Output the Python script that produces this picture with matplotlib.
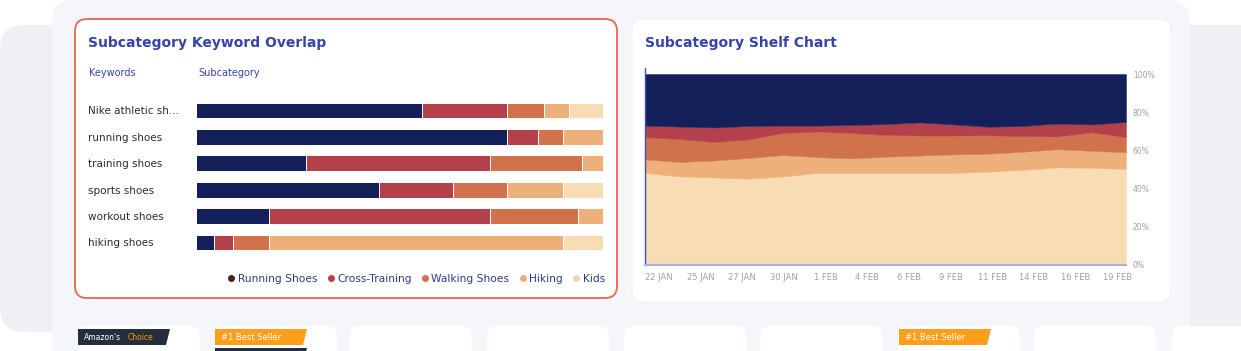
import numpy as np
import matplotlib.pyplot as plt
from matplotlib.patches import FancyBboxPatch, Polygon
from matplotlib.lines import Line2D
from matplotlib.transforms import IdentityTransform

W, H = 1241, 351

# keyword overlap (share of each keyword per subcategory, %)
keywords = ["Nike athletic sh...", "running shoes", "training shoes",
            "sports shoes", "workout shoes", "hiking shoes"]
subcats = ["Running Shoes", "Cross-Training", "Walking Shoes", "Hiking", "Kids"]
running_kw = [55.5, 76.5, 27.0, 45.0, 18.0, 4.3]
cross_kw = [21.0, 7.4, 45.1, 18.0, 54.2, 4.7]
walking_kw = [9.0, 6.3, 22.6, 13.3, 21.6, 8.9]
hiking_kw = [6.2, 9.8, 5.3, 13.9, 6.2, 72.3]
kids_kw = [8.3, 0.0, 0.0, 9.8, 0.0, 9.8]

# shelf share over time (%)
dates = ["22 JAN", "25 JAN", "27 JAN", "30 JAN", "1 FEB", "4 FEB",
         "6 FEB", "9 FEB", "11 FEB", "14 FEB", "16 FEB", "19 FEB"]
kids_sh = [48.2, 46.4, 45.8, 45.2, 46.3, 48.2, 48.2, 48.2, 48.2, 48.2, 48.9, 49.8, 51.1, 50.9, 50.3]
hiking_sh = [7.1, 7.5, 8.9, 10.8, 11.3, 8.3, 7.6, 8.5, 9.1, 9.7, 9.4, 9.5, 9.5, 8.9, 8.7]
walking_sh = [11.6, 12.1, 9.7, 9.7, 11.5, 13.4, 13.3, 11.4, 10.5, 9.9, 9.6, 8.2, 6.7, 9.7, 7.9]
cross_sh = [6.0, 6.5, 7.6, 7.1, 3.9, 3.1, 4.2, 5.7, 6.9, 5.8, 4.5, 5.3, 6.8, 4.1, 8.0]
running_sh = [27.1, 27.5, 28.0, 27.2, 27.0, 27.0, 26.7, 26.2, 25.3, 26.4, 27.6, 27.2, 25.9, 26.4, 25.1]

colors = ["#14205A", "#B3404A", "#D0734D", "#EDB07A", "#F8DCB3"]
dot_colors = ["#4A2118", "#B8404A", "#D0724C", "#EDB07A", "#EED2BE"]
blue = "#3444AA"

plt.rcParams['font.family'] = ['DejaVu Sans']


def box(x0, y0, x1, y1):
    return [x0 / W, 1 - y1 / H, (x1 - x0) / W, (y1 - y0) / H]


def rbox(fig, x0, y0, x1, y1, r, fc, ec="none", lw=0, z=-1):
    p = FancyBboxPatch((x0, H - y1), x1 - x0, y1 - y0,
                       boxstyle="round,pad=0,rounding_size=%s" % r,
                       fc=fc, ec=ec, lw=lw, transform=IdentityTransform(), zorder=z)
    fig.add_artist(p)


def ftext(fig, x, y, s, **kw):
    return fig.text(x / W, 1 - y / H, s, **kw)


fig = plt.figure(figsize=(W / 100, H / 100), dpi=100)
fig.patch.set_facecolor("white")

# page background panels
rbox(fig, 0, 25, 1300, 332, 24, "#EEF0F6", z=-5)
rbox(fig, 52, 0, 1190, 420, 22, "#F5F6FA", z=-4)
rbox(fig, 75, 19, 617, 298, 12, "white", ec="#EA6750", lw=1.3, z=-2)
rbox(fig, 632, 19, 1171, 302, 12, "white", ec="#ECEDF2", lw=0.5, z=-2)

# product cards at the bottom
for cx in [78, 215, 350, 487, 624, 760, 898, 1034, 1172]:
    rbox(fig, cx, 326, cx + 122, 400, 10, "white", z=-3)


def badge(x0, y0, x1, y1, fc):
    fig.add_artist(Polygon([(x0, H - y0), (x1, H - y0), (x1 - 4, H - y1), (x0, H - y1)],
                           closed=True, fc=fc, ec="none", transform=IdentityTransform(), zorder=-2))


badge(78, 329, 170, 345, "#232F3E")
ftext(fig, 84, 337, "Amazon's", fontsize=5.5, color="white", va="center",
      family=["Liberation Sans Narrow", "DejaVu Sans"])
ftext(fig, 128, 337, "Choice", fontsize=5.5, color="#FF9900", va="center",
      family=["Liberation Sans Narrow", "DejaVu Sans"])
for bx in [215, 899]:
    badge(bx, 329, bx + 92, 345, "#FF9E1B")
    ftext(fig, bx + 6, 337.5, "#1 Best Seller", fontsize=6, color="white", va="center",
          family=["Liberation Sans Narrow", "DejaVu Sans"])
badge(215, 348, 307, 364, "#232F3E")

# ---------- left card: keyword overlap ----------
ftext(fig, 88, 43, "Subcategory Keyword Overlap", fontsize=10, weight="bold",
      color=blue, va="center")
ftext(fig, 89, 73, "Keywords", fontsize=7, color=blue, va="center")
ftext(fig, 198, 73, "Subcategory", fontsize=7, color=blue, va="center")

ax1 = fig.add_axes(box(196, 97.3, 604, 255.7))
ax1.set_facecolor("none")
y = np.arange(len(keywords))
left = np.zeros(len(keywords))
for vals, col in zip([running_kw, cross_kw, walking_kw, hiking_kw, kids_kw], colors):
    ax1.barh(y, vals, left=left, height=0.6, color=col, edgecolor="white", linewidth=0.7)
    left += np.array(vals)
ax1.set_xlim(0, 100.2)
ax1.set_ylim(5.5, -0.5)
ax1.set_xticks([])
ax1.set_yticks(y, keywords)
for lbl in ax1.get_yticklabels():
    lbl.set_horizontalalignment("left")
ax1.tick_params(axis="y", length=0, pad=108 * 0.72, labelsize=7.5, labelcolor="#2B2B33")
for s in ax1.spines.values():
    s.set_visible(False)

handles = [Line2D([], [], ls="", marker="o", markersize=4, color=c) for c in dot_colors]
fig.legend(handles, subcats, loc="center right", bbox_to_anchor=(605 / W, 1 - 279 / H),
           ncol=5, frameon=False, fontsize=7.7, handlelength=0.5, handletextpad=0.35,
           columnspacing=1.0, borderpad=0, borderaxespad=0, labelcolor="#2B3A8C")

# ---------- right card: shelf chart ----------
ftext(fig, 645, 43, "Subcategory Shelf Chart", fontsize=10, weight="bold",
      color=blue, va="center")

ax2 = fig.add_axes(box(645, 74, 1126, 265))
ax2.set_facecolor("none")
x = np.arange(len(kids_sh))
ax2.stackplot(x, kids_sh, hiking_sh, walking_sh, cross_sh, running_sh,
              colors=colors[::-1], linewidth=0.3, edgecolor="face")
ax2.set_xlim(0, len(x) - 1)
ax2.set_ylim(0, 100)
ax2.set_xticks(np.linspace(0.4, 13.75, len(dates)), dates)
ax2.yaxis.tick_right()
ax2.set_yticks(range(0, 101, 20), ["%d%%" % v for v in range(0, 101, 20)])
ax2.tick_params(axis="x", length=0, pad=6, labelsize=6, labelcolor="#A0A0A8")
ax2.tick_params(axis="y", length=0, pad=5, labelsize=5.5, labelcolor="#A0A0A8")
for s in ["top", "right", "left"]:
    ax2.spines[s].set_visible(False)
ax2.spines["bottom"].set_color("#A9AEDB")
ax2.spines["bottom"].set_linewidth(1.6)
ax2.axvline(0, ymin=0, ymax=1.03, color="#3F4FC0", lw=1.0, clip_on=False)

fig.savefig("out.png", dpi=100)
